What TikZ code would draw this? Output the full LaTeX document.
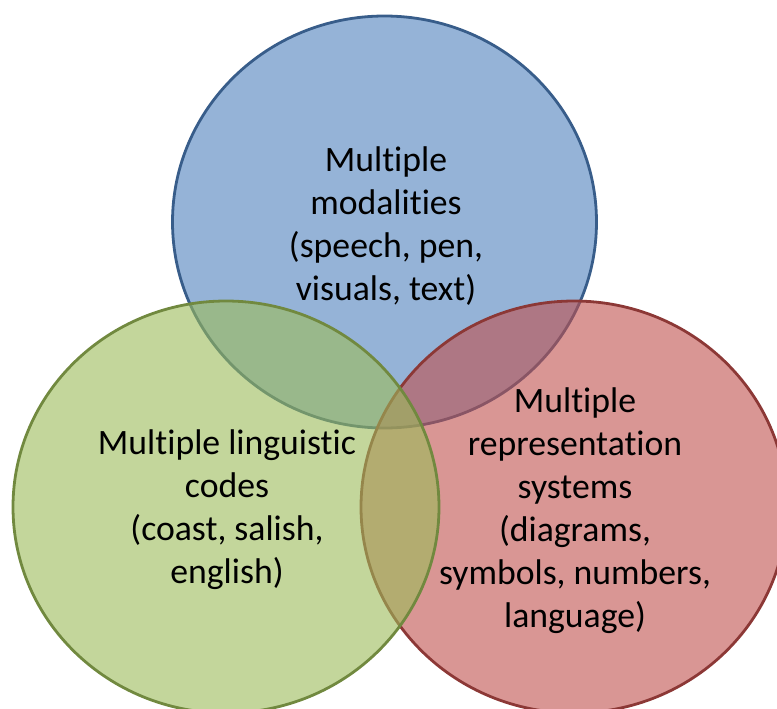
\documentclass[tikz,border=0pt]{standalone}
\usepackage{fontspec}
\setmainfont{Carlito}[Ligatures={NoCommon}]
\begin{document}
\begin{tikzpicture}[x=1pt,y=-1pt,
  setfill/.style={fill opacity=0.6, line width=2.8pt},
  lbl/.style={align=center, text=black, font=\fontsize{35.7}{43}\selectfont}]
\definecolor{acBlue}{HTML}{4F81BD}\definecolor{lnBlue}{HTML}{385D8A}
\definecolor{acGreen}{HTML}{9BBB59}\definecolor{lnGreen}{HTML}{71893F}
\definecolor{acRed}{HTML}{C0504D}\definecolor{lnRed}{HTML}{8C3836}
\useasboundingbox (0,0) rectangle (777,709);
% three overlapping sets, drawn blue, red, green
\begin{scope}
\clip (0,0) rectangle (777,709);
\filldraw[setfill, fill=acBlue, draw=lnBlue, draw opacity=1] (384.5,222) ellipse [x radius=212, y radius=206];
\filldraw[setfill, fill=acRed, draw=lnRed, draw opacity=1] (574,507) ellipse [x radius=213, y radius=206];
\filldraw[setfill, fill=acGreen, draw=lnGreen, draw opacity=1] (226,507) ellipse [x radius=213, y radius=206];
\end{scope}
\node[lbl] (modal) at (386,226) {Multiple\\modalities\\(speech, pen,\\visuals, text)};
\node[lbl] (ling) at (227,510) {Multiple linguistic\\codes\\(coast, salish,\\english)};
\node[lbl] (repr) at (575,511) {Multiple\\representation\\systems\\(diagrams,\\symbols, numbers,\\language)};
\end{tikzpicture}
\end{document}
